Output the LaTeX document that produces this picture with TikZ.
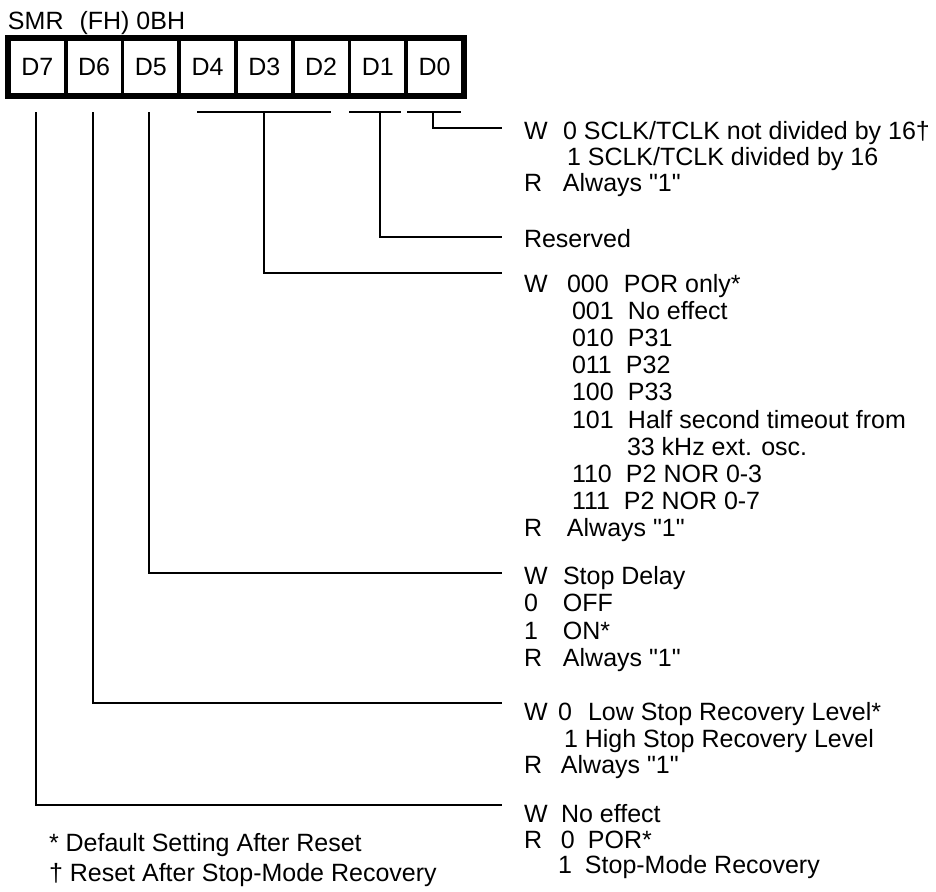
\documentclass[tikz,border=0pt]{standalone}
\usepackage{fontspec}
\newfontfamily\lsans{Liberation Sans}
\newlength\px
\setlength\px{0.5pt}
\newcommand\cola[3]{\makebox[#1\px][l]{#2}#3}
\begin{document}
\begin{tikzpicture}[x=0.5pt,y=-0.5pt,
  font=\lsans\fontsize{12.5}{15}\selectfont,
  txt/.style={anchor=base west,inner sep=0pt,outer sep=0pt},
  cell/.style={draw,line width=1.9pt,minimum width=28.375pt,minimum height=28pt,inner sep=0pt},
  conn/.style={line width=1.35pt}]
\useasboundingbox (0,0) rectangle (936,891);
% title
\node[txt] (title) at (8,29) {SMR\hspace{8pt}(FH) 0BH};
% register cells
\foreach \i/\n in {0/7,1/6,2/5,3/4,4/3,5/2,6/1,7/0}{
  \node[cell] (c\n) at ({9+56.75*(\i+0.5)},67) {D\n};
}
\draw[line width=2.1pt] (c7.north west) rectangle (c0.south east);
% connector points
\coordinate (t7) at (36,112);
\coordinate (t6) at (93,112);
\coordinate (t5) at (149,112);
\coordinate (b4) at (197,112);
\coordinate (b2) at (331,112);
\coordinate (t3) at (264,112);
\coordinate (b1l) at (349,112);
\coordinate (b1r) at (401,112);
\coordinate (t1) at (380,112);
\coordinate (b0l) at (407,112);
\coordinate (b0r) at (461,112);
\coordinate (t0) at (433,112);
\coordinate (e0) at (502,128);
\coordinate (e1) at (502,237);
\coordinate (e3) at (502,273);
\coordinate (e5) at (502,573);
\coordinate (e6) at (502,703);
\coordinate (e7) at (502,805);
\draw[conn] (b4) -- (b2);
\draw[conn] (b1l) -- (b1r);
\draw[conn] (b0l) -- (b0r);
\draw[conn] (t0) |- (e0);
\draw[conn] (t1) |- (e1);
\draw[conn] (t3) |- (e3);
\draw[conn] (t5) |- (e5);
\draw[conn] (t6) |- (e6);
\draw[conn] (t7) |- (e7);
% D0 block
\node[txt] (a1) at (524,139) {\cola{39}{W}{0 SCLK/TCLK not divided by 16†}};
\node[txt] (a2) at (567,165) {1 SCLK/TCLK divided by 16};
\node[txt] (a3) at (524,191) {\cola{39}{R}{Always "1"}};
% D1
\node[txt] (r1) at (524,247) {Reserved};
% D4-D2 block
\node[txt] (p0) at (524,292) {\cola{43}{W}{\cola{57}{000}{POR only*}}};
\node[txt] (p1) at (572,319.2) {\cola{56}{001}{No effect}};
\node[txt] (p2) at (572,346.4) {\cola{56}{010}{P31}};
\node[txt] (p3) at (572,373.6) {\cola{54}{011}{P32}};
\node[txt] (p4) at (572,400.8) {\cola{56}{100}{P33}};
\node[txt] (p5) at (572,428) {\cola{56}{101}{Half second timeout from}};
\node[txt] (p6) at (627,455.2) {33 kHz ext. osc.};
\node[txt] (p7) at (572,482.4) {\cola{54}{110}{P2 NOR 0-3}};
\node[txt] (p8) at (572,509.6) {\cola{52}{111}{P2 NOR 0-7}};
\node[txt] (p9) at (524,536.8) {\cola{43}{R}{Always "1"}};
% D5 block
\node[txt] (s1) at (524,584) {\cola{39}{W}{Stop Delay}};
\node[txt] (s2) at (524,611) {\cola{39}{0}{OFF}};
\node[txt] (s3) at (524,639) {\cola{39}{1}{ON*}};
\node[txt] (s4) at (524,666) {\cola{39}{R}{Always "1"}};
% D6 block
\node[txt] (l1) at (524,720) {\cola{34}{W}{\cola{30}{0}{Low Stop Recovery Level*}}};
\node[txt] (l2) at (564,747) {1 High Stop Recovery Level};
\node[txt] (l3) at (524,773) {\cola{37}{R}{Always "1"}};
% D7 block
\node[txt] (m1) at (524,822) {\cola{37}{W}{No effect}};
\node[txt] (m2) at (524,848) {\cola{37}{R}{\cola{27}{0}{POR*}}};
\node[txt] (m3) at (558,873) {\cola{27}{1}{Stop-Mode Recovery}};
% footnotes
\node[txt] (f1) at (49,851) {* Default Setting After Reset};
\node[txt] (f2) at (49,881) {† Reset After Stop-Mode Recovery};
\end{tikzpicture}
\end{document}
